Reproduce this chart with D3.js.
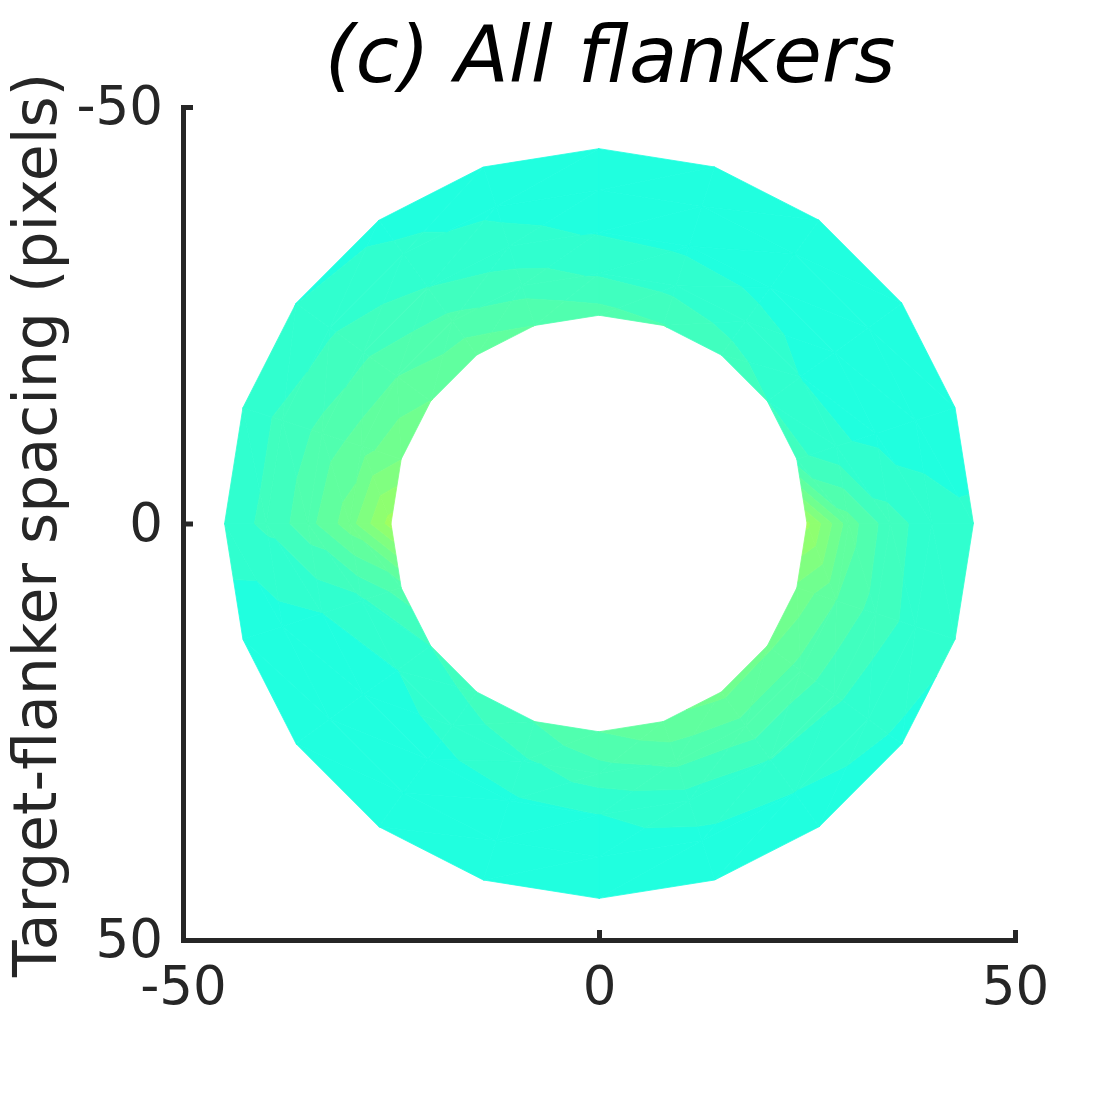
<!DOCTYPE html>
<html>
<head>
<meta charset="utf-8">
<script src="https://cdn.jsdelivr.net/npm/d3@7"></script>
<style>
    body { margin: 0; background: #fff; }
    #chart { width: 1120px; height: 1094px; }
    text { font-family: "DejaVu Sans", sans-serif; fill: #262626; }
</style>
</head>
<body>
<div id="chart"></div>
<script>
// polar grid: spacing (pixels) x flanker angle (deg)
const radii = [25, 30, 35, 40, 45];
const angles = [0, 18, 36, 54, 72, 90, 108, 126, 144, 162, 180, 198, 216, 234, 252, 270, 288, 306, 324, 342];

// one row per ring, values in colour-axis units (0..1)
const ring25 = [0.519, 0.481, 0.472, 0.473, 0.466, 0.453, 0.438, 0.427, 0.422, 0.445, 0.522, 0.484, 0.469, 0.464, 0.453, 0.444, 0.438, 0.430, 0.422, 0.427];
const ring30 = [0.461, 0.453, 0.447, 0.447, 0.441, 0.430, 0.419, 0.411, 0.406, 0.419, 0.477, 0.461, 0.453, 0.442, 0.430, 0.420, 0.416, 0.411, 0.406, 0.409];
const ring35 = [0.428, 0.430, 0.425, 0.422, 0.414, 0.406, 0.403, 0.400, 0.398, 0.406, 0.447, 0.442, 0.434, 0.422, 0.411, 0.405, 0.403, 0.402, 0.400, 0.402];
const ring40 = [0.414, 0.416, 0.411, 0.406, 0.402, 0.398, 0.398, 0.398, 0.398, 0.400, 0.425, 0.425, 0.419, 0.409, 0.403, 0.398, 0.398, 0.398, 0.398, 0.398];
const ring45 = [0.409, 0.408, 0.403, 0.400, 0.398, 0.398, 0.398, 0.398, 0.398, 0.398, 0.414, 0.413, 0.406, 0.402, 0.398, 0.398, 0.398, 0.398, 0.398, 0.398];

const xTicks = [-50, 0, 50];
const yTicks = [-50, 0, 50];
const titleText = "(c) All flankers";
const yLabelText = "Target-flanker spacing (pixels)";

// MATLAB-style jet colormap with m entries
function jet(m) {
    let n = Math.ceil(m / 4);
    let u = [];
    for (let i = 1; i <= n; i++) u.push(i / n);
    for (let i = 1; i < n; i++) u.push(1);
    for (let i = n; i >= 1; i--) u.push(i / n);
    let g0 = Math.ceil(n / 2) - (m % 4 === 1 ? 1 : 0);
    let J = d3.range(m).map(() => [0, 0, 0]);
    u.forEach((v, j) => {
        let gi = g0 + j + 1, ri = gi + n, bi = gi - n;
        if (ri >= 1 && ri <= m) J[ri - 1][0] = v;
        if (gi >= 1 && gi <= m) J[gi - 1][1] = v;
        if (bi >= 1 && bi <= m) J[bi - 1][2] = v;
    });
    return J.map(c => d3.rgb(c[0] * 255, c[1] * 255, c[2] * 255).formatHex());
}

// keep the part of a polygon above (or below) a value level
function clipLevel(poly, level, above) {
    let out = [];
    for (let i = 0; i < poly.length; i++) {
        let a = poly[i], b = poly[(i + 1) % poly.length];
        let inA = above ? a.v >= level : a.v <= level;
        let inB = above ? b.v >= level : b.v <= level;
        if (inA) out.push(a);
        if (inA !== inB) {
            let t = (level - a.v) / (b.v - a.v);
            out.push({ x: a.x + t * (b.x - a.x), y: a.y + t * (b.y - a.y), v: level });
        }
    }
    return out;
}

class RingMap {

    constructor(_parentContainer, _radii, _angles, _values) {
        this.parentContainer = _parentContainer;
        this.radii = _radii;
        this.angles = _angles;
        this.values = _values;
        this.initVis();
    }

    initVis() {
        let vis = this;

        vis.width = 1120;
        vis.height = 1094;
        vis.nColors = 64;

        vis.x = d3.scaleLinear().domain([-50, 50]).range([183, 1015]);
        vis.y = d3.scaleLinear().domain([-50, 50]).range([107, 940]);   // reversed axis, -50 on top

        vis.color = d3.scaleQuantize()
            .domain([0, 1])
            .range(jet(vis.nColors));

        vis.line = d3.line().x(d => d.x).y(d => d.y);

        vis.svg = d3.select("#" + vis.parentContainer).append("svg")
            .attr("width", vis.width)
            .attr("height", vis.height);

        vis.wrangleData();
    }

    wrangleData() {
        let vis = this;

        let na = vis.angles.length;
        let node = (i, k) => {
            let th = vis.angles[k % na] * Math.PI / 180;
            let r = vis.radii[i];
            return { x: vis.x(r * Math.cos(th)), y: vis.y(r * Math.sin(th)), v: vis.values[i][k % na] };
        };

        // every grid cell split in two triangles, interpolated linearly
        let triangles = [];
        for (let i = 0; i < vis.radii.length - 1; i++) {
            for (let k = 0; k < na; k++) {
                let a = node(i, k), b = node(i + 1, k), c = node(i + 1, k + 1), d = node(i, k + 1);
                triangles.push([a, b, c], [a, c, d]);
            }
        }

        // cut each triangle into the colormap bands it covers
        let step = 1 / vis.nColors;
        vis.pieces = [];
        triangles.forEach(tri => {
            let lo = Math.floor(d3.min(tri, p => p.v) / step);
            let hi = Math.floor(d3.max(tri, p => p.v) / step);
            for (let b = lo; b <= hi; b++) {
                let poly = clipLevel(tri, b * step, true);
                poly = clipLevel(poly, (b + 1) * step, false);
                if (poly.length >= 3) vis.pieces.push({ pts: poly, v: d3.mean(poly, p => p.v) });
            }
        });

        vis.updateVis();
    }

    updateVis() {
        let vis = this;

        vis.svg.append("g")
            .attr("class", "ring")
            .selectAll("path")
            .data(vis.pieces)
            .join("path")
            .attr("d", d => vis.line(d.pts) + "Z")
            .attr("fill", d => vis.color(d.v))
            .attr("stroke", d => vis.color(d.v))
            .attr("stroke-width", 0.8)
            .attr("stroke-linejoin", "round");

        // axes, ticks pointing inwards like MATLAB
        let xAxis = d3.axisBottom(vis.x)
            .tickValues(xTicks)
            .tickFormat(d3.format("d"))
            .tickSizeInner(-10)
            .tickSizeOuter(0)
            .tickPadding(26);

        let yAxis = d3.axisLeft(vis.y)
            .tickValues(yTicks)
            .tickFormat(d3.format("d"))
            .tickSizeInner(-10)
            .tickSizeOuter(0)
            .tickPadding(20);

        let gx = vis.svg.append("g")
            .attr("transform", "translate(0," + vis.y(50) + ")")
            .call(xAxis);

        let gy = vis.svg.append("g")
            .attr("transform", "translate(" + vis.x(-50) + ",0)")
            .call(yAxis);

        [gx, gy].forEach(g => {
            g.attr("font-family", null).attr("font-size", null);
            g.select(".domain")
                .attr("stroke", "#262626")
                .attr("stroke-width", 5)
                .attr("stroke-linecap", "square");
            g.selectAll(".tick line")
                .attr("stroke", "#262626")
                .attr("stroke-width", 5);
            g.selectAll(".tick text")
                .style("font-size", "53px")
                .attr("fill", "#262626")
                .text(d => d3.format("d")(d).replace("−", "-"));
        });

        vis.svg.append("text")
            .attr("x", 610)
            .attr("y", 82)
            .attr("text-anchor", "middle")
            .style("font-size", "79px")
            .style("font-style", "italic")
            .style("fill", "#000")
            .text(titleText);

        vis.svg.append("text")
            .attr("transform", "translate(56,525) rotate(-90)")
            .attr("text-anchor", "middle")
            .style("font-size", "60px")
            .text(yLabelText);
    }
}

new RingMap("chart", radii, angles, [ring25, ring30, ring35, ring40, ring45]);
</script>
</body>
</html>
